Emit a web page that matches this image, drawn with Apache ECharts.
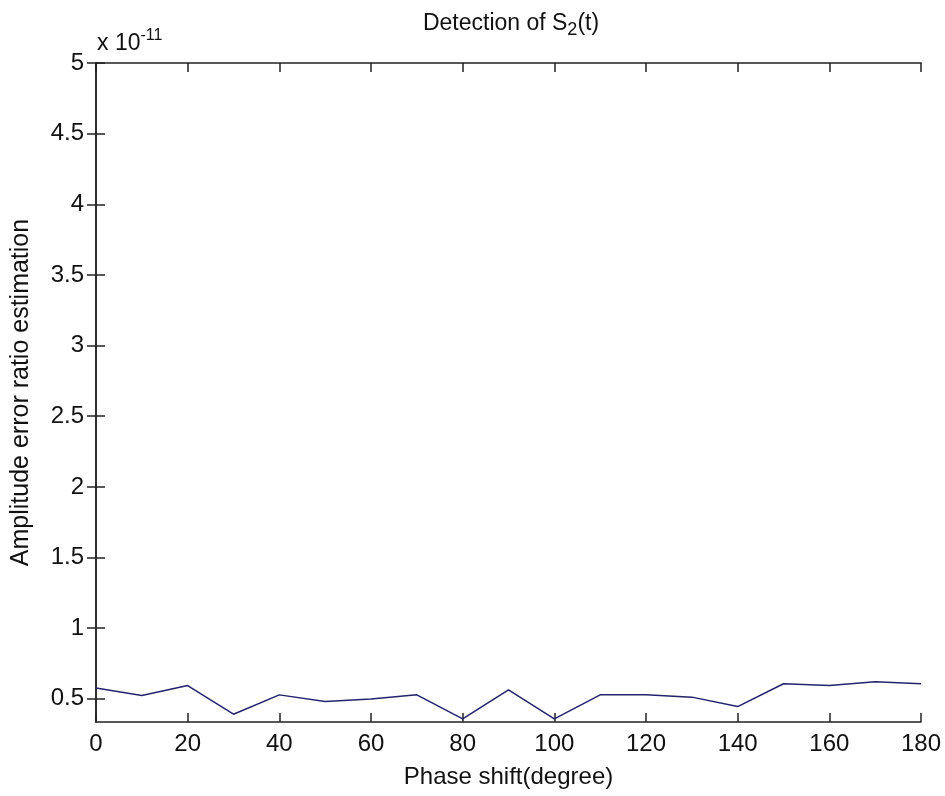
<!DOCTYPE html>
<html><head><meta charset="utf-8">
<script src="https://cdn.jsdelivr.net/npm/echarts@6/dist/echarts.min.js"></script>
<style>html,body{margin:0;padding:0;background:#fff}#c{width:945px;height:796px}</style>
</head><body><div id="c"></div>
<script>
const phaseShift = [0,10,20,30,40,50,60,70,80,90,100,110,120,130,140,150,160,170,180];
const amplitudeError = [0.576,0.523,0.594,0.391,0.528,0.481,0.498,0.528,0.358,0.564,0.358,0.528,0.528,0.512,0.445,0.607,0.594,0.621,0.607];
const yTicks = [0.5,1,1.5,2,2.5,3,3.5,4,4.5,5];
const xTicks = [0,20,40,60,80,100,120,140,160,180];
const FONT = "'Liberation Sans',Arial,sans-serif";
const chart = echarts.init(document.getElementById('c'));
const axLine = {show:true, lineStyle:{color:'#222', width:1.5}};
const tick = {show:true, inside:true, length:9, lineStyle:{color:'#222', width:1.5}};
chart.setOption({
  backgroundColor:'#fff',
  animation:false,
  title:{
    text:'Detection of S{sub|2}(t)',
    left:506, top:3, textAlign:'center',
    textStyle:{fontFamily:FONT, fontSize:23, fontWeight:'normal', color:'#111',
      rich:{sub:{fontFamily:FONT, fontSize:18, color:'#111', verticalAlign:'bottom', padding:[13,0,0,0]}}}
  },
  graphic:[{
    type:'text', left:97, top:28,
    style:{text:'x 10{sup|-11}', fontFamily:FONT, fontSize:23, fill:'#111',
      rich:{sup:{fontFamily:FONT, fontSize:16, fill:'#111', verticalAlign:'top', padding:[0,0,15,0]}}}
  }],
  grid:{left:96, right:24, top:63, bottom:74, containLabel:false},
  xAxis:[{
    type:'value', min:0, max:180, interval:20,
    name:'Phase shift(degree)', nameLocation:'middle', nameGap:43,
    nameTextStyle:{fontFamily:FONT, fontSize:24, color:'#111'},
    axisLine:axLine, axisTick:tick, splitLine:{show:false},
    axisLabel:{fontFamily:FONT, fontSize:24, color:'#111', margin:10}
  },{
    type:'value', position:'top', min:0, max:180, interval:20,
    axisLine:axLine, axisTick:tick, splitLine:{show:false}, axisLabel:{show:false}
  }],
  yAxis:[{
    type:'value', min:0.336, max:5,
    name:'Amplitude error ratio estimation', nameLocation:'middle', nameGap:62,
    nameTextStyle:{fontFamily:FONT, fontSize:25, color:'#111'},
    axisLine:axLine,
    axisTick:Object.assign({}, tick, {customValues:yTicks}),
    splitLine:{show:false},
    axisLabel:{fontFamily:FONT, fontSize:24, color:'#111', margin:12, customValues:yTicks,
      formatter:v=>String(v)}
  },{
    type:'value', position:'right', min:0.336, max:5,
    axisLine:axLine,
    axisTick:Object.assign({}, tick, {customValues:yTicks}),
    splitLine:{show:false}, axisLabel:{show:false}
  }],
  series:[{
    type:'line', xAxisIndex:0, yAxisIndex:0,
    data:phaseShift.map((x,i)=>[x, amplitudeError[i]]),
    showSymbol:false, symbol:'none',
    lineStyle:{color:'#24246e', width:1.5}
  }]
});
</script></body></html>
